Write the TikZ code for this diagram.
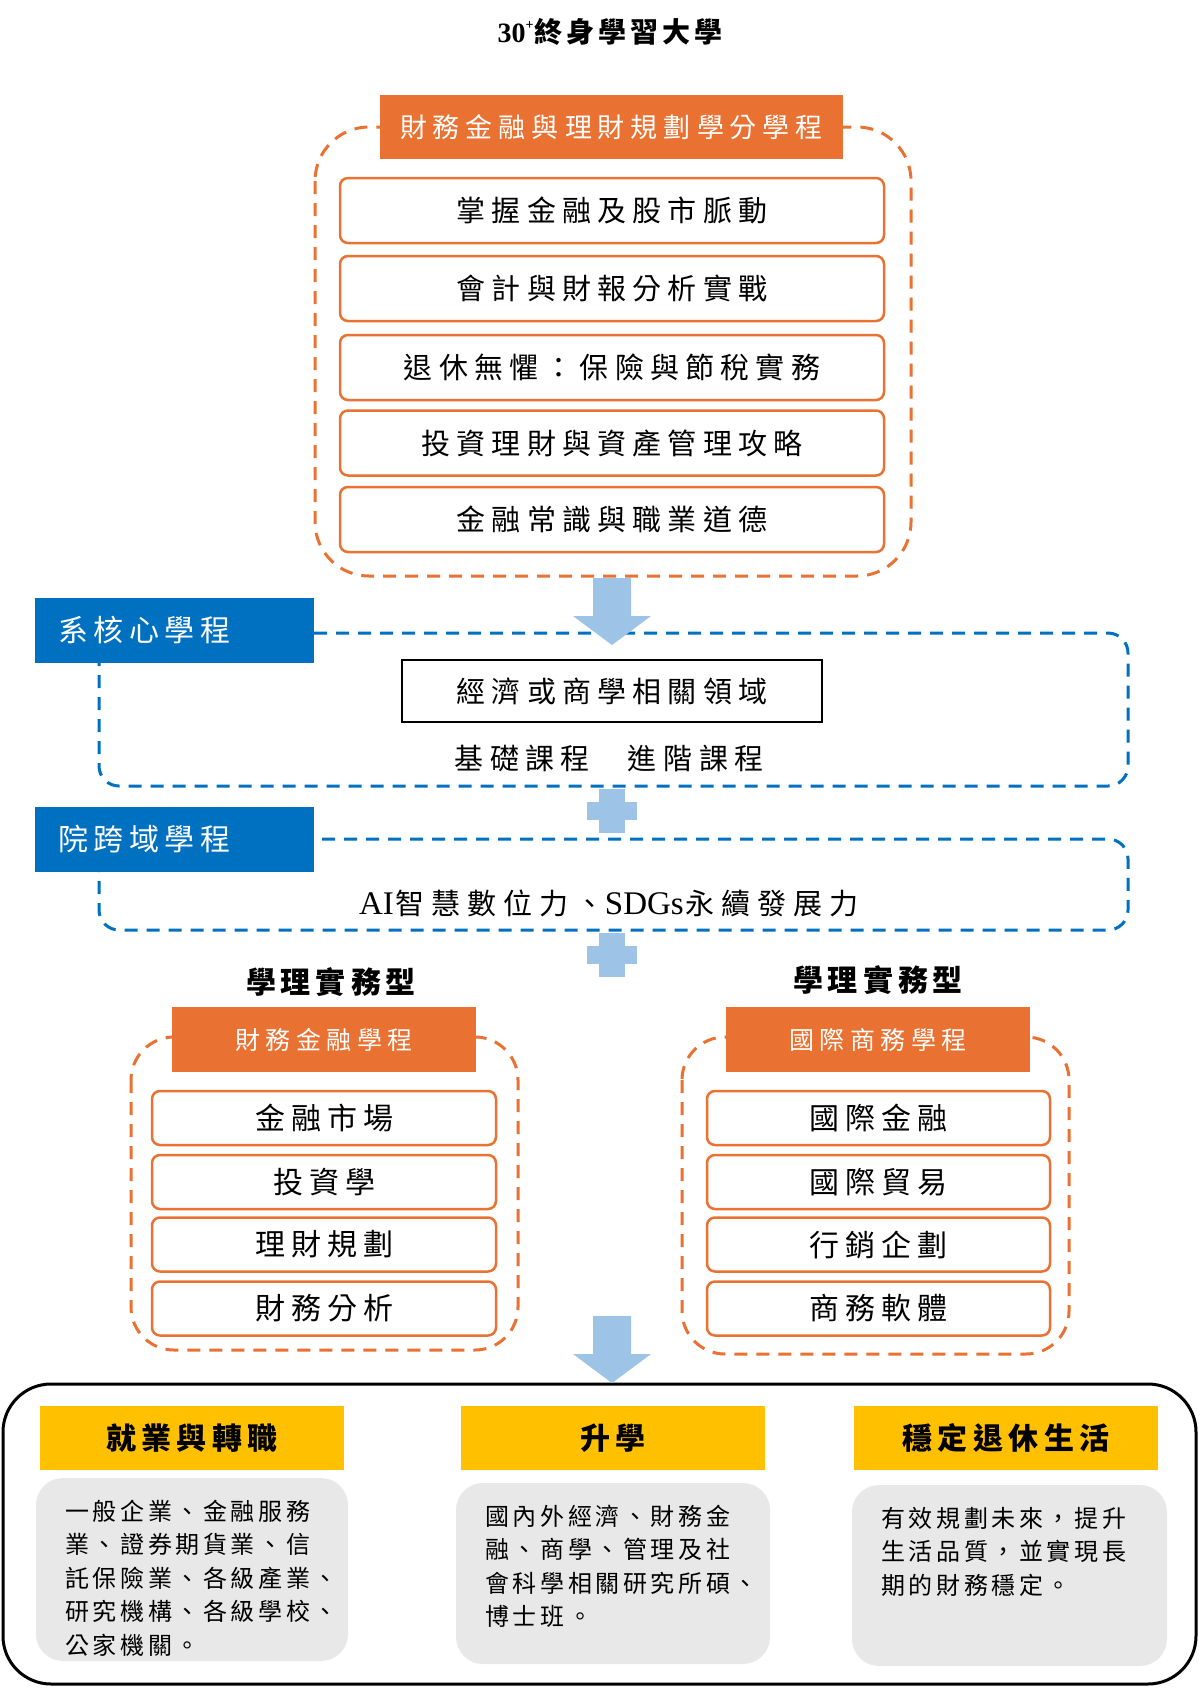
\documentclass[tikz,border=0pt]{standalone}
\usepackage{fontspec}
\setmainfont{Noto Sans CJK TC}
\newfontfamily\lat{Liberation Serif}
\definecolor{org}{HTML}{E97132}
\definecolor{blu}{HTML}{0070C0}
\definecolor{lblu}{HTML}{9DC3E6}
\definecolor{yel}{HTML}{FFC000}
\definecolor{gry}{HTML}{E8E8E8}
\newcommand\fsz[1]{\fontsize{#1pt}{#1pt}\selectfont}
\newcommand\trk[2]{\def\trkamt{#1}\trkloop#2\relax\kern-\trkamt}
\def\trkloop#1{\ifx#1\relax\else#1\kern\trkamt\expandafter\trkloop\fi}
\tikzset{
  orgdash/.style={draw=org, line width=3pt, dash pattern=on 13pt off 9pt},
  bludash/.style={draw=blu, line width=3pt, dash pattern=on 13pt off 9pt, rounded corners=20pt},
  orghead/.style={fill=org, text=white, inner sep=0pt},
  orgbox/.style={draw=org, line width=2.5pt, rounded corners=8pt, fill=white, inner sep=0pt},
  blulbl/.style={fill=blu, text=white, inner sep=0pt, minimum width=279pt, minimum height=64.5pt, anchor=north west, text width=232pt, inner xsep=23.5pt, align=left},
  yelhead/.style={fill=yel, inner sep=0pt, minimum width=304pt, minimum height=64pt},
  grybox/.style={fill=gry, rounded corners=27pt, inner sep=0pt},
  grytext/.style={anchor=north west, inner sep=0pt, align=left, font=\fontsize{24pt}{33.4pt}\selectfont},
  arrowfill/.style={fill=lblu}
}
\begin{document}
\begin{tikzpicture}[x=1pt,y=-1pt]
\useasboundingbox (0,0) rectangle (1200,1689);
\fill[white] (0,0) rectangle (1200,1689);

% title
\node[inner sep=0pt] (title) at (610,32) {\fsz{28}\bfseries{\lat 30}\raisebox{0.45em}{\fsz{14}\lat +}\kern1pt\trk{4pt}{終身學習大學}};

% top orange container
\draw[orgdash, rounded corners=54pt] (315,127) rectangle (911,576);
\node[orghead, minimum width=463pt, minimum height=64pt] (oh) at (611.5,127) {\fsz{27}\trk{6pt}{財務金融與理財規劃學分學程}};
\node[orgbox, minimum width=544pt, minimum height=65pt] (c1) at (612,210.5) {\fsz{29}\trk{6.2pt}{掌握金融及股市脈動}};
\node[orgbox, minimum width=544pt, minimum height=65pt] (c2) at (612,288.5) {\fsz{29}\trk{6.2pt}{會計與財報分析實戰}};
\node[orgbox, minimum width=544pt, minimum height=65pt] (c3) at (612,367.5) {\fsz{29}\trk{6.2pt}{退休無懼：保險與節稅實務}};
\node[orgbox, minimum width=544pt, minimum height=65pt] (c4) at (612,443) {\fsz{29}\trk{6.2pt}{投資理財與資產管理攻略}};
\node[orgbox, minimum width=544pt, minimum height=65pt] (c5) at (612,519.5) {\fsz{29}\trk{6.2pt}{金融常識與職業道德}};

% blue box 1
\draw[bludash] (99,633) rectangle (1128,786);
\node[blulbl] (b1) at (34.5,598) {\fsz{30}\trk{5.5pt}{系核心學程}};
\node[draw=black, line width=2pt, minimum width=420pt, minimum height=62pt, inner sep=0pt] (econ) at (612,691) {\fsz{29}\trk{6.2pt}{經濟或商學相關領域}};
\node[inner sep=0pt] (basic) at (609,758) {\fsz{29}\trk{6.5pt}{基礎課程}\kern38pt\trk{6.5pt}{進階課程}};

% arrow 1
\fill[arrowfill] (593,578) -- (631,578) -- (631,616) -- (651,616) -- (612,645) -- (573,616) -- (593,616) -- cycle;

% blue box 2
\draw[bludash] (99,839) rectangle (1128,930);
\node[blulbl] (b2) at (34.5,807) {\fsz{30}\trk{5.5pt}{院跨域學程}};
\node[inner sep=0pt] (ai) at (609,903) {\fsz{29}{\lat\fontsize{33pt}{33pt}\selectfont AI}\kern2pt\trk{7pt}{智慧數位力、}{\lat\fontsize{33pt}{33pt}\selectfont SDGs}\kern2pt\trk{7pt}{永續發展力}};

% plus signs
\fill[arrowfill] (599,789) rectangle (625,833);
\fill[arrowfill] (587,802) rectangle (637,820);
\fill[arrowfill] (599,933) rectangle (625,977);
\fill[arrowfill] (587,946) rectangle (637,964);

% left program
\node[inner sep=0pt] (typeL) at (331,982) {\fsz{30}\bfseries\trk{5pt}{學理實務型}};
\draw[orgdash, rounded corners=43pt] (131,1037) rectangle (518,1350);
\node[orghead, minimum width=304pt, minimum height=65pt] (hL) at (324,1039.5) {\fsz{25}\trk{5.5pt}{財務金融學程}};
\node[orgbox, minimum width=344pt, minimum height=54pt] (l1) at (324,1118) {\fsz{30}\trk{6pt}{金融市場}};
\node[orgbox, minimum width=344pt, minimum height=54pt] (l2) at (324,1182) {\fsz{30}\trk{6pt}{投資學}};
\node[orgbox, minimum width=344pt, minimum height=54pt] (l3) at (324,1244.5) {\fsz{30}\trk{6pt}{理財規劃}};
\node[orgbox, minimum width=344pt, minimum height=54pt] (l4) at (324,1308.5) {\fsz{30}\trk{6pt}{財務分析}};

% right program
\node[inner sep=0pt] (typeR) at (878,980) {\fsz{30}\bfseries\trk{5pt}{學理實務型}};
\draw[orgdash, rounded corners=43pt] (682,1037) rectangle (1069,1354);
\node[orghead, minimum width=304pt, minimum height=65pt] (hR) at (878,1039.5) {\fsz{25}\trk{5.5pt}{國際商務學程}};
\node[orgbox, minimum width=343pt, minimum height=54pt] (r1) at (878.5,1118) {\fsz{30}\trk{6pt}{國際金融}};
\node[orgbox, minimum width=343pt, minimum height=54pt] (r2) at (878.5,1182) {\fsz{30}\trk{6pt}{國際貿易}};
\node[orgbox, minimum width=343pt, minimum height=54pt] (r3) at (878.5,1244.5) {\fsz{30}\trk{6pt}{行銷企劃}};
\node[orgbox, minimum width=343pt, minimum height=54pt] (r4) at (878.5,1308.5) {\fsz{30}\trk{6pt}{商務軟體}};

% bottom outcome box
\draw[black, line width=3pt, rounded corners=48pt] (3,1384) rectangle (1196,1684);
\fill[arrowfill] (593,1316) -- (631,1316) -- (631,1354) -- (651,1354) -- (612,1383) -- (573,1354) -- (593,1354) -- cycle;

\node[yelhead] (y1) at (192,1438) {\fsz{30}\bfseries\trk{5.5pt}{就業與轉職}};
\node[yelhead] (y2) at (613,1438) {\fsz{30}\bfseries\trk{5.5pt}{升學}};
\node[yelhead] (y3) at (1006,1438) {\fsz{30}\bfseries\trk{5.5pt}{穩定退休生活}};

\node[grybox, minimum width=312pt, minimum height=183pt] (g1) at (192,1569.5) {};
\node[grybox, minimum width=314pt, minimum height=181pt] (g2) at (613,1573.5) {};
\node[grybox, minimum width=315pt, minimum height=181pt] (g3) at (1009.5,1575.5) {};

\node[grytext] (t1) at (65,1500) {\trk{3.6pt}{一般企業、金融服務}\\\trk{3.6pt}{業、證券期貨業、信}\\\trk{3.6pt}{託保險業、各級產業、}\\\trk{3.6pt}{研究機構、各級學校、}\\\trk{3.6pt}{公家機關。}};
\node[grytext] (t2) at (485,1505) {\trk{3.6pt}{國內外經濟、財務金}\\\trk{3.6pt}{融、商學、管理及社}\\\trk{3.6pt}{會科學相關研究所碩、}\\\trk{3.6pt}{博士班。}};
\node[grytext] (t3) at (881,1507) {\trk{3.6pt}{有效規劃未來，提升}\\\trk{3.6pt}{生活品質，並實現長}\\\trk{3.6pt}{期的財務穩定。}};
\end{tikzpicture}
\end{document}
